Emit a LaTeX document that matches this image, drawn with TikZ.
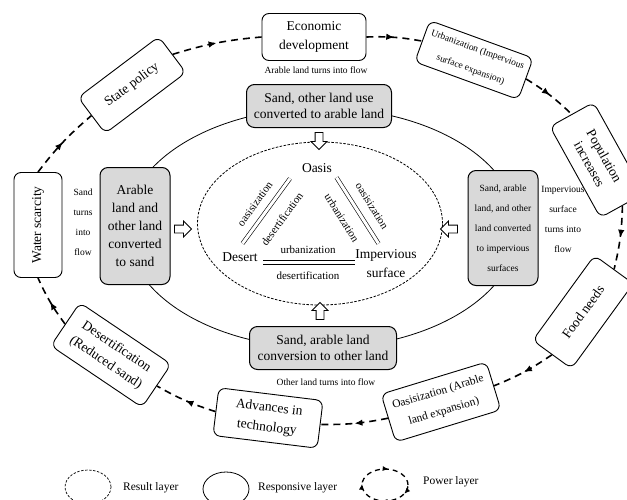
\documentclass[tikz,border=0pt]{standalone}
\usepackage{fontspec}
\setmainfont{Liberation Serif}
\usetikzlibrary{shapes.arrows,decorations.markings,arrows.meta}
\definecolor{gfill}{RGB}{217,217,217}
\begin{document}
\begin{tikzpicture}[x=1pt,y=-1pt,
  pbox/.style={draw, rounded corners=7pt, line width=0.9pt, fill=white, align=center, inner sep=2pt, font=\fontsize{13.5}{19}\selectfont},
  gbox/.style={draw, rounded corners=8pt, line width=1pt, fill=gfill, align=center, inner sep=2pt, font=\fontsize{13.5}{16}\selectfont},
  powerlink/.style={line width=1.6pt, dash pattern=on 7pt off 5pt,
    postaction={decorate, solid, decoration={markings, mark=at position 0.5 with {\arrow{Latex[length=8pt,width=6.5pt]}}}}},
  blockarr/.style={single arrow, draw, fill=white, line width=0.8pt, inner sep=3.5pt, minimum height=17pt, single arrow head extend=4pt},
  dbl/.style={double, double distance=3pt, line width=0.6pt},
  lbl/.style={font=\fontsize{11}{13}\selectfont, inner sep=0.5pt},
  flowlbl/.style={font=\fontsize{9.5}{20}\selectfont, align=center, inner sep=1pt},
  legtxt/.style={font=\fontsize{11.5}{13}\selectfont, anchor=west, inner sep=0pt}
]
\useasboundingbox[fill=white] (0,0) rectangle (627,499);

% responsive layer and result layer
\draw[line width=0.8pt] (322,228) ellipse [x radius=196pt, y radius=120pt];
\draw[line width=0.8pt, dash pattern=on 2.5pt off 1.5pt] (320,223.5) ellipse [x radius=122.5pt, y radius=81.5pt];

% power layer boxes
\node[pbox, minimum width=104pt, minimum height=47pt] (eco) at (314,37) {Economic\\development};
\node[pbox, rotate=-20, minimum width=110pt, minimum height=44pt, font=\fontsize{9.5}{21}\selectfont] (urb) at (474,60) {Urbanization (Impervious\\surface expansion)};
\node[pbox, rotate=-61, minimum width=104pt, minimum height=50pt, font=\fontsize{13.5}{17}\selectfont] (pop) at (597,160) {Population\\increases};
\node[pbox, rotate=54, minimum width=105pt, minimum height=48pt] (food) at (583,312) {Food needs};
\node[pbox, rotate=17, minimum width=110pt, minimum height=50pt, font=\fontsize{11.5}{20}\selectfont] (oas) at (441,402) {Oasisization (Arable\\land expansion)};
\node[pbox, rotate=-7, minimum width=105pt, minimum height=48pt, font=\fontsize{13.5}{20}\selectfont] (adv) at (268,418) {Advances in\\technology};
\node[pbox, rotate=-34, minimum width=110pt, minimum height=52pt] (des) at (111,355) {Desertification\\(Reduced sand)};
\node[pbox, rotate=90, minimum width=105pt, minimum height=48pt] (wat) at (38,225) {Water scarcity};
\node[pbox, rotate=37, minimum width=101pt, minimum height=45pt] (sta) at (132,85) {State policy};

% power layer links
\draw[powerlink] (sta.east) to[bend left=6] (eco.west);
\draw[powerlink] (eco.east) to[bend left=6] (urb.west);
\draw[powerlink] (urb.east) to[bend left=6] (pop.west);
\draw[powerlink] (pop.east) to[bend left=6] (food.east);
\draw[powerlink] (food.west) to[bend left=6] (oas.east);
\draw[powerlink] (oas.west) to[bend left=6] (adv.east);
\draw[powerlink] (adv.west) to[bend left=6] (des.east);
\draw[powerlink] (des.west) to[bend left=6] (wat.west);
\draw[powerlink] (wat.east) to[bend left=6] (sta.west);

% responsive layer boxes
\node[gbox, minimum width=145pt, minimum height=43pt] (gtop) at (319,106) {Sand, other land use\\converted to arable land};
\node[gbox, minimum width=147pt, minimum height=43pt] (gbot) at (323,348) {Sand, arable land\\conversion to other land};
\node[gbox, minimum width=70pt, minimum height=117pt, font=\fontsize{13.5}{18}\selectfont] (gleft) at (135,226) {Arable\\land and\\other land\\converted\\to sand};
\node[gbox, minimum width=70pt, minimum height=115pt, font=\fontsize{9.5}{20}\selectfont] (gright) at (503,228) {Sand, arable\\land, and other\\land converted\\to impervious\\surfaces};

% flow labels
\node[flowlbl] (ftop) at (316,70) {Arable land turns into flow};
\node[flowlbl] (fbot) at (326,382) {Other land turns into flow};
\node[flowlbl] (fleft) at (83,222) {Sand\\turns\\into\\flow};
\node[flowlbl] (fright) at (563,219) {Impervious\\surface\\turns into\\flow};

% block arrows
\node[blockarr, rotate=-90] (atop) at (319,139) {};
\node[blockarr, rotate=90] (abot) at (320,313) {};
\node[blockarr] (aleft) at (181,229) {};
\node[blockarr, rotate=180] (aright) at (451,229) {};

% result layer
\node[font=\fontsize{13.5}{16}\selectfont] (oasis) at (317,168) {Oasis};
\node[font=\fontsize{13.5}{16}\selectfont] (desert) at (240,257) {Desert};
\node[font=\fontsize{13.5}{19}\selectfont, align=center] (imp) at (386,264) {Impervious\\surface};

\coordinate (l1a) at (290,178.5);
\coordinate (l1b) at (242.5,243.5);
\coordinate (l2a) at (336.5,177.5);
\coordinate (l2b) at (378.5,243.5);
\coordinate (l3a) at (263,262.5);
\coordinate (l3b) at (355,262.5);
\draw[dbl] (l1a) -- (l1b);
\draw[dbl] (l2a) -- (l2b);
\draw[dbl] (l3a) -- (l3b);

\node[lbl, rotate=54] (t1) at (255,204) {oasisization};
\node[lbl, rotate=54] (t2) at (282,219) {desertification};
\node[lbl, rotate=-58] (t3) at (342,218) {urbanization};
\node[lbl, rotate=-58] (t4) at (372,206) {oasisization};
\node[lbl] (t5) at (308,250) {urbanization};
\node[lbl] (t6) at (308,276) {desertification};

% legend
\draw[line width=0.7pt, dash pattern=on 2.5pt off 1.5pt] (88,487) ellipse [x radius=23pt, y radius=17pt];
\node[legtxt] (leg1) at (123,488) {Result layer};
\draw[line width=0.8pt] (226,489) ellipse [x radius=23pt, y radius=17pt];
\node[legtxt] (leg2) at (258,488) {Responsive layer};
\draw[line width=1.3pt, dash pattern=on 5pt off 4pt,
  postaction={decorate, solid, decoration={markings,
    mark=at position 0.22 with {\arrowreversed{Latex[length=6pt,width=5pt]}},
    mark=at position 0.49 with {\arrowreversed{Latex[length=6pt,width=5pt]}},
    mark=at position 0.72 with {\arrowreversed{Latex[length=6pt,width=5pt]}},
    mark=at position 0.92 with {\arrowreversed{Latex[length=6pt,width=5pt]}}}}]
  (385,485) ellipse [x radius=23pt, y radius=16pt];
\node[legtxt] (leg3) at (423,482) {Power layer};
\end{tikzpicture}
\end{document}
